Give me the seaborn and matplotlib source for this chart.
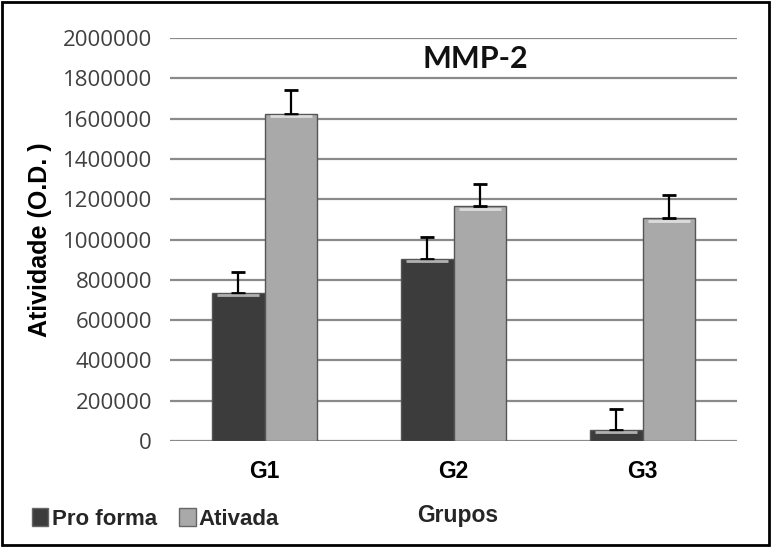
import matplotlib
matplotlib.use("Agg")
import matplotlib.pyplot as plt
import seaborn as sns
import pandas as pd
import numpy as np
from matplotlib.patches import Rectangle, Patch

groups = ["G1", "G2", "G3"]
series = ["Pro forma", "Ativada"]
pro_forma = [735000, 905000, 55000]
ativada = [1625000, 1165000, 1105000]
pro_forma_err = [105000, 105000, 105000]
ativada_err = [115000, 110000, 115000]
yticks = [0, 200000, 400000, 600000, 800000, 1000000, 1200000, 1400000, 1600000, 1800000, 2000000]

df = pd.DataFrame({
    "Grupos": groups * 2,
    "Serie": [series[0]] * 3 + [series[1]] * 3,
    "Valor": pro_forma + ativada,
    "Erro": pro_forma_err + ativada_err,
})

sns.set_theme(style="white")
plt.rcParams["font.family"] = ["Liberation Sans", "DejaVu Sans"]

fig = plt.figure(figsize=(7.71, 5.47), dpi=100)
ax = fig.add_axes([0.2205, 0.1938, 0.7355, 0.7367])

colors = {"Pro forma": "#3c3c3c", "Ativada": "#a9a9a9"}
sns.barplot(data=df, x="Grupos", y="Valor", hue="Serie", palette=colors,
            errorbar=None, width=0.56, ax=ax, legend=False, zorder=3,
            edgecolor="#555555", linewidth=1.0)

bars = [p for p in ax.patches]
vals = pro_forma + ativada
errs = pro_forma_err + ativada_err
for p, v, e in zip(bars, vals, errs):
    xc = p.get_x() + p.get_width() / 2
    ax.errorbar(xc, v, yerr=[[0], [e]], fmt="none", ecolor="black",
                elinewidth=1.6, capsize=5, capthick=2, zorder=4)
    ax.plot([p.get_x() + p.get_width()*0.1, p.get_x() + p.get_width()*0.9], [v - 12000, v - 12000],
            color="white", lw=2, alpha=0.6, zorder=4, solid_capstyle="butt")

ax.set_ylim(0, 2000000)
ax.set_xlim(-0.5, 2.5)
ax.set_yticks(yticks)
ax.set_yticklabels([str(t) for t in yticks])
ax.yaxis.grid(True, color="#8a8a8a", linewidth=1.6, zorder=0)
ax.set_axisbelow(True)
for s in ax.spines.values():
    s.set_visible(False)
ax.tick_params(axis="y", length=0, pad=13, labelsize=16, labelcolor="#404040")
ax.tick_params(axis="x", length=0, pad=14, labelsize=16.5, labelcolor="black")
for lbl in ax.get_yticklabels():
    lbl.set_family(["Open Sans", "DejaVu Sans"])
for lbl in ax.get_xticklabels():
    lbl.set_fontweight("bold")

ax.set_xlabel("")
ax.set_ylabel("Atividade (O.D. )", fontsize=18, fontweight="bold", labelpad=8, color="black")

fig.text(0.594, 0.058, "Grupos", fontsize=16.5, fontweight="bold", ha="center", va="center")
fig.text(0.616, 0.892, "MMP-2", fontsize=22, fontweight="bold", ha="center", va="center",
         family=["Lato", "DejaVu Sans"], color="#111111")

handles = [Patch(facecolor=colors[s], edgecolor="#666666") for s in series]
fig.legend(handles, series, loc="center left", bbox_to_anchor=(0.015, 0.052), ncol=2,
           frameon=False, handlelength=0.75, handleheight=0.9, handletextpad=0.15,
           columnspacing=1.0, prop={"weight": "bold", "size": 16})

fig.patches.append(Rectangle((0.002, 0.003), 0.996, 0.994, transform=fig.transFigure,
                             fill=False, edgecolor="black", linewidth=2.0))

fig.savefig("out.png", dpi=100)
